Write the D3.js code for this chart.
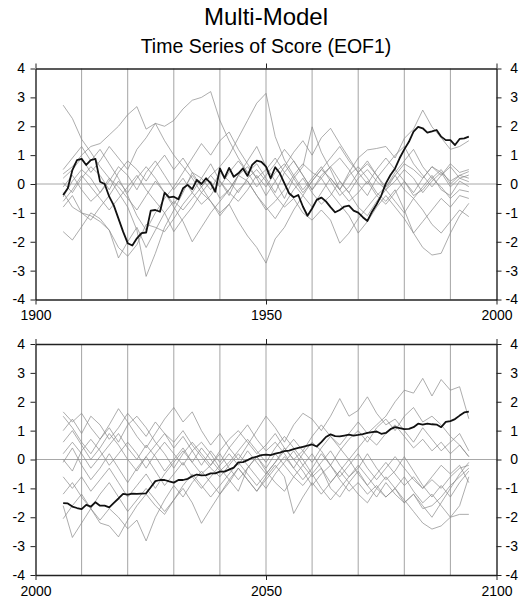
<!DOCTYPE html>
<html>
<head>
<meta charset="utf-8">
<script src="https://cdn.jsdelivr.net/npm/d3@7"></script>
<style>
body { margin: 0; background: #fff; }
text { font-family: "Liberation Sans", Arial, Helvetica, sans-serif; fill: #000; }
</style>
</head>
<body>
<script>
// Titles
var title = "Multi-Model",
    subtitle = "Time Series of Score (EOF1)";

// y ticks (both panels)
var y_ticks = [-4, -3, -2, -1, 0, 1, 2, 3, 4];

// Upper panel : 1900 - 2000
var top_domain = [1900, 2000],
    top_labels = [1900, 1950, 2000],
    top_grid = [1910, 1920, 1930, 1940, 1950, 1960, 1970, 1980, 1990];
var top_years = d3.range(1906, 1995),
    top_model_years = d3.range(1906, 1995, 2);
// multi-model mean (thick)
var top_mean = [
    -0.38, -0.15, 0.48, 0.83, 0.87, 0.66, 0.83, 0.87, 0.08, 0.00,
    -0.44, -0.75, -1.20, -1.65, -2.05, -2.13, -1.88, -1.70, -1.68, -0.92,
    -0.90, -0.96, -0.30, -0.46, -0.44, -0.53, -0.15, -0.03, -0.18, 0.14,
    0.00, 0.20, 0.02, -0.27, 0.54, 0.20, 0.56, 0.25, 0.37, 0.54,
    0.28, 0.66, 0.81, 0.77, 0.60, 0.20, 0.58, 0.37, 0.02, -0.32,
    -0.46, -0.38, -0.78, -1.10, -0.85, -0.55, -0.47, -0.60, -0.80, -0.98,
    -0.90, -0.78, -0.75, -0.92, -0.99, -1.15, -1.28, -0.96, -0.70, -0.40,
    0.02, 0.31, 0.54, 0.90, 1.20, 1.46, 1.81, 1.98, 1.93, 1.78,
    1.82, 1.87, 1.64, 1.52, 1.52, 1.35, 1.56, 1.58, 1.64];
// individual models (thin)
var top_models = [
    [2.73, 2.27, 1.55, 1.1, 0.6, 0.2, -0.3, -0.8, -1.6, -3.2,
     -2.4, -1.5, -0.9, -0.3, 0.4, 0.2, 0.7, 0.1, -0.4, 0.3,
     0.8, 1.3, 0.6, 0.1, -0.5, 0.2, 0.6, 1.98, 1.1, 0.5,
     -0.2, 0.4, 0.9, 1.18, 1.23, 1.3, 0.9, 1.58, 1.9, 2.56,
     1.98, 1.6, 1.2, 1.3, 1.5],
    [0.35, 0.6, 1.0, 1.3, 1.4, 1.7, 2.0, 2.4, 2.68, 1.9,
     2.1, 1.5, 1.0, 0.6, 0.2, -0.3, 0.1, -0.5, -0.2, 0.3,
     0.1, -0.4, -0.9, -0.6, -0.2, 0.3, 0.7, 0.4, 0.2, 0.6,
     0.1, -0.3, 0.2, 0.5, 0.1, -0.2, 0.3, 0.7, 0.5, 0.2,
     0.6, 0.4, 0.1, 0.3, 0.43],
    [0.2, 0.5, 0.9, 0.4, 0.8, 1.3, 0.9, 0.5, 1.2, 1.6,
     2.1, 2.0, 2.2, 2.6, 2.9, 3.0, 3.2, 2.2, 1.5, 0.9,
     0.4, 0.7, 0.2, -0.3, 0.4, 0.8, 0.3, -0.2, 0.3, 0.6,
     0.9, 0.5, 0.0, -0.4, 0.2, 0.6, 1.0, 1.3, 0.7, 0.3,
     -0.1, 0.3, 0.6, 0.2, 0.31],
    [0.05, -0.3, 0.2, 0.6, 0.3, -0.2, 0.4, 0.8, 0.5, 0.1,
     0.6, 1.0, 0.5, 0.9, 0.4, -0.1, 0.3, 0.6, 1.0, 1.6,
     2.2, 2.8, 3.14, 1.64, 0.83, 0.3, -0.2, 0.2, 0.6, 0.1,
     -0.4, -0.1, 0.4, 0.7, 0.3, -0.2, 0.1, 0.5, 0.2, -0.3,
     0.1, 0.4, -0.1, 0.2, 0.08],
    [-0.1, 0.3, -0.2, -0.6, -0.3, 0.2, -0.1, -0.5, -0.9, -0.4,
     0.1, -0.3, -0.7, -0.2, 0.3, -0.1, -0.6, -1.0, -0.7, -1.3,
     -1.8, -2.2, -2.74, -1.9, -1.5, -0.9, -0.4, -0.8, -0.3, 0.2,
     -0.2, -0.6, -0.3, 0.1, -0.4, -0.1, 0.3, -0.2, -0.5, -0.1,
     0.3, -0.2, -0.4, 0.1, -0.09],
    [-0.3, -0.8, -1.0, -1.1, -1.3, -1.6, -2.2, -2.5, -2.1, -1.4,
     -1.5, -1.65, -1.2, -0.7, -0.3, 0.2, -0.2, 0.4, 0.1, -0.3,
     0.2, 0.5, 0.1, -0.4, -0.8, -0.5, -1.0, -1.25, -0.9, -1.25,
     -2.05, -1.7, -1.2, -0.8, -0.4, -0.7, -0.3, 0.1, -0.4, -0.2,
     0.2, -0.1, -0.5, -0.2, -0.27],
    [-0.45, 0.1, 0.5, 0.2, -0.3, 0.1, 0.6, 0.3, -0.2, 0.4,
     0.8, 0.3, -0.2, 0.2, -0.3, -0.7, -0.4, 0.1, -0.3, -0.6,
     -0.2, 0.3, -0.1, 0.4, 0.7, 0.2, -0.3, 0.1, 0.5, 0.2,
     -0.2, 0.3, 0.6, 0.2, -0.3, -0.6, -0.2, -0.9, -1.7, -2.2,
     -2.46, -2.4, -1.7, -1.1, -0.67],
    [-0.6, -0.2, 0.3, -0.1, -0.5, -0.9, -0.5, -0.1, 0.3, -0.2,
     -0.6, -1.0, -1.65, -1.2, -0.8, -0.3, -0.6, -1.1, -0.7, -0.2,
     0.1, -0.4, -0.8, -1.2, -0.7, -0.2, 0.2, -0.3, -0.7, -0.4,
     0.1, -0.3, -0.8, -1.1, -0.6, -0.2, -0.6, -1.0, -0.5, -0.9,
     -1.4, -1.7, -1.3, -0.9, -1.13],
    [-0.8, -0.4, -1.0, -1.25, -0.8, -0.4, 0.1, -0.3, 0.2, 0.6,
     0.2, -0.3, -0.8, -1.3, -2.0, -1.5, -1.0, -0.6, -0.2, 0.3,
     0.6, 0.2, 0.5, 0.9, 0.4, 0.0, -0.4, 0.1, 0.5, 0.9,
     1.3, 0.8, 0.4, 0.0, 0.5, 0.9, 0.5, 0.1, -0.3, 0.2,
     0.6, 0.3, 0.7, 0.4, 0.5],
    [-1.65, -1.94, -1.48, -1.0, -1.2, -1.6, -2.56, -2.0, -1.5, -2.2,
     -1.6, -1.0, -0.6, -0.9, -0.5, -0.1, 0.3, -0.1, 0.4, 0.8,
     0.4, -0.1, 0.3, 0.7, 1.2, 0.8, 0.3, -0.2, 0.2, -0.3,
     -0.7, -1.1, -1.7, -1.3, -0.8, -0.4, -0.8, -1.2, -1.7, -1.3,
     -0.9, -0.5, -0.8, -0.4, -0.5],
    [0.5, 0.9, 1.3, 0.8, 1.2, 0.7, 0.2, -0.4, -1.1, -1.6,
     -1.0, -0.5, -0.1, 0.4, 0.9, 1.4, 1.0, 1.5, 1.8, 1.2,
     0.7, 0.2, -0.4, 0.1, 0.6, 1.1, 1.5, 1.0, 1.6, 1.93,
     1.4, 0.9, 0.4, 0.8, 0.3, -0.1, 0.4, 0.8, 1.2, 0.6,
     0.2, 0.5, 0.0, 0.3, 0.2]
];

// Lower panel : 2000 - 2100
var bot_domain = [2000, 2100],
    bot_labels = [2000, 2050, 2100],
    bot_grid = [2010, 2020, 2030, 2040, 2050, 2060, 2070, 2080, 2090];
var bot_years = d3.range(2006, 2095),
    bot_model_years = d3.range(2006, 2095, 2);
var bot_mean = [
    -1.51, -1.52, -1.63, -1.68, -1.72, -1.57, -1.63, -1.48, -1.60, -1.60,
    -1.66, -1.50, -1.35, -1.19, -1.22, -1.18, -1.19, -1.18, -1.17, -0.96,
    -0.75, -0.71, -0.71, -0.76, -0.80, -0.71, -0.71, -0.67, -0.58, -0.52,
    -0.55, -0.54, -0.48, -0.48, -0.42, -0.42, -0.35, -0.28, -0.10, -0.09,
    -0.02, 0.06, 0.10, 0.15, 0.17, 0.15, 0.20, 0.24, 0.29, 0.31,
    0.36, 0.40, 0.44, 0.48, 0.52, 0.45, 0.60, 0.78, 0.87, 0.81,
    0.80, 0.83, 0.86, 0.83, 0.85, 0.88, 0.92, 0.95, 0.97, 0.89,
    0.92, 1.05, 1.12, 1.09, 1.05, 1.06, 1.12, 1.24, 1.21, 1.24,
    1.22, 1.21, 1.12, 1.30, 1.33, 1.40, 1.52, 1.63, 1.66];
var bot_models = [
    [1.65, 1.3, 1.6, 1.1, 0.7, 1.2, 1.76, 1.3, 0.8, 0.4,
     0.9, 1.4, 1.8, 1.3, 1.65, 1.0, 0.5, 0.9, 0.4, 0.0,
     0.5, 1.0, 1.5, 1.1, 0.6, 1.2, 1.6, 1.4, 1.0, 1.5,
     2.11, 1.5, 1.7, 2.17, 1.6, 1.2, 1.4, 1.0, 0.6, 1.1,
     0.7, 0.3, 0.6, 0.9, 0.3],
    [1.5, 1.1, 0.6, 0.2, 0.7, 1.1, 0.6, 1.2, 1.5, 1.1,
     0.6, 0.2, -0.3, 0.2, 0.6, 0.2, -0.2, 0.3, 0.7, 1.0,
     0.6, 0.2, 0.5, 0.9, 0.4, 0.0, 0.3, 0.8, 1.2, 0.8,
     0.5, 0.9, 1.3, 0.9, 1.2, 1.5, 2.0, 2.4, 2.3, 2.81,
     2.2, 2.77, 2.4, 2.52, 1.41],
    [1.0, 1.4, 0.9, 1.5, 1.2, 0.7, 1.1, 1.6, 1.2, 0.8,
     1.3, 0.9, 0.4, 0.8, 0.3, -0.2, 0.3, -0.1, 0.4, 0.8,
     1.2, 0.7, 0.3, 0.6, 0.2, -0.3, 0.2, 0.6, 0.3, -0.2,
     0.3, 0.7, 1.0, 0.6, 1.1, 1.4, 1.0, 1.5, 1.8, 1.3,
     1.5, 1.2, 0.8, 0.5, 0.1],
    [0.6, 1.0, 0.5, 0.0, 0.4, 0.9, 0.5, 0.0, -0.4, 0.1,
     0.5, 0.9, 0.6, 1.0, 0.5, 0.1, -0.3, -0.6, -0.2, 0.2,
     -0.2, -0.6, -1.0, -0.5, -0.1, 0.3, -0.2, -0.6, -0.3, -1.0,
     -1.3, -0.8, -0.4, -0.9, -1.3, -0.8, -1.2, -1.5, -1.2, -1.6,
     -2.0, -1.5, -1.0, -0.5, -0.1],
    [0.2, 0.6, 0.2, -0.3, 0.1, 0.5, 0.9, 0.4, 0.0, 0.5,
     0.1, -0.4, 0.0, 0.4, -0.1, -0.5, -0.2, 0.2, -0.3, -0.7,
     -0.3, 0.1, -0.4, -0.8, -1.1, -0.6, -0.9, -0.5, -1.0, -1.4,
     -1.0, -0.6, -0.2, -0.6, -1.0, -1.3, -1.0, -1.5, -1.2, -1.7,
     -1.6, -1.3, -0.9, -0.6, -0.3],
    [0.0, -0.4, 0.3, 0.7, 0.3, -0.2, 0.2, 0.6, 0.2, -0.3,
     0.2, 0.6, 0.2, -0.2, 0.3, 0.6, 0.2, -0.3, -0.7, -0.3,
     -0.7, -1.1, -0.6, -0.2, -0.6, -1.87, -1.3, -0.8, -1.2, -0.8,
     -0.4, -0.8, -1.2, -1.5, -1.0, -0.6, -1.0, -1.4, -1.8, -2.2,
     -2.41, -2.3, -2.0, -1.6, -0.6],
    [-0.1, 0.4, -0.2, -0.7, -0.3, 0.2, -0.3, -0.8, -0.3, 0.1,
     -0.4, -0.9, -0.5, -0.1, -0.6, -1.0, -0.6, -0.2, 0.2, -0.2,
     0.3, -0.1, -0.5, -0.1, 0.4, 0.0, -0.4, -0.9, -0.5, -0.2,
     -0.7, -1.1, -0.8, -1.2, -0.9, -1.3, -1.0, -0.6, -1.1, -1.5,
     -1.2, -1.6, -2.0, -1.9, -1.9],
    [-0.6, -1.0, -0.6, -1.1, -0.7, -0.3, -0.8, -1.3, -0.9, -0.5,
     -1.0, -0.5, -0.1, 0.3, -0.1, 0.4, 0.0, -0.4, -0.1, 0.3,
     0.7, 0.3, -0.1, 0.4, 0.8, 0.4, 0.0, -0.5, -0.1, 0.3,
     -0.2, -0.6, -0.3, 0.2, -0.3, -0.7, -0.4, 0.1, -0.4, -0.9,
     -1.3, -0.9, -1.3, -0.8, -0.4],
    [-1.2, -0.8, -1.3, -1.7, -1.2, -0.8, -1.3, -1.8, -1.4, -1.0,
     -1.4, -1.8, -1.4, -1.0, -1.5, -2.21, -1.7, -1.2, -0.7, -1.1,
     -0.3, 0.1, -0.3, 0.2, -0.2, -0.6, -0.2, 0.2, -0.3, -0.8,
     -0.4, 0.0, -0.5, -0.9, -0.5, -0.1, -0.5, -0.9, -0.6, -1.0,
     -0.7, -1.0, -0.6, -0.3, -0.2],
    [-1.6, -2.7, -2.2, -1.7, -2.1, -1.7, -2.0, -2.4, -2.1, -2.82,
     -2.0, -1.4, -0.9, -1.3, -0.8, -0.4, -0.8, -1.2, -0.8, -0.3,
     -0.7, -1.1, -0.7, -0.3, 0.1, -0.3, -0.7, -0.3, 0.2, -0.2,
     -0.6, -0.2, 0.2, -0.3, -0.7, -0.3, 0.1, -0.3, -0.7, -1.0,
     -0.6, -0.2, -0.5, -0.2, -0.8],
    [-2.05, -1.6, -1.2, -1.7, -2.2, -2.3, -2.68, -2.1, -1.6, -1.2,
     -1.6, -1.9, -1.4, -0.9, -0.5, -0.9, -1.3, -0.9, -0.5, -0.1,
     -0.5, -0.9, -0.5, -0.1, 0.3, 0.7, 0.3, -0.1, 0.4, 0.8,
     0.4, 0.0, 0.4, 0.8, 0.5, 0.9, 1.2, 0.8, 0.4, 0.7,
     0.3, 0.6, 0.2, 0.5, 0.1]
];

/* **
** Layout
** */
var width = 525, height = 601;
var plot = {left: 35.5, right: 496.5};

var svg = d3.select("body").append("svg")
        .attr("width", width)
        .attr("height", height);

svg.append("text")
        .attr("x", 266).attr("y", 25)
        .attr("text-anchor", "middle")
        .style("font-size", "24px")
        .text(title);
svg.append("text")
        .attr("x", 266).attr("y", 53)
        .attr("text-anchor", "middle")
        .style("font-size", "19.5px")
        .text(subtitle);

function drawPanel(y_top, y_bottom, domain, labels, grid, years, mean, model_years, models) {
    var x = d3.scaleLinear().domain(domain).range([plot.left, plot.right]);
    var y = d3.scaleLinear().domain([-4, 4]).range([y_bottom, y_top]);
    var g = svg.append("g");

    // vertical grid every decade + zero line
    g.append("g").selectAll("line")
        .data(grid).enter().append("line")
            .attr("x1", function(d) { return x(d); })
            .attr("x2", function(d) { return x(d); })
            .attr("y1", y_top).attr("y2", y_bottom)
            .style("stroke", "#9a9a9a").style("stroke-width", 0.9);
    g.append("line")
        .attr("x1", plot.left).attr("x2", plot.right)
        .attr("y1", y(0)).attr("y2", y(0))
        .style("stroke", "#a8a8a8").style("stroke-width", 1);

    // individual models
    var thin = d3.line()
        .x(function(d, i) { return x(model_years[i]); })
        .y(function(d) { return y(d); });
    g.append("g").selectAll("path")
        .data(models).enter().append("path")
            .attr("d", thin)
            .style("fill", "none")
            .style("stroke", "#8a8a8a")
            .style("stroke-width", 0.7);

    // multi-model mean
    var thick = d3.line()
        .x(function(d, i) { return x(years[i]); })
        .y(function(d) { return y(d); });
    g.append("path")
        .datum(mean)
        .attr("d", thick)
        .style("fill", "none")
        .style("stroke", "#111")
        .style("stroke-width", 1.8)
        .style("stroke-linejoin", "round");

    // axes
    var ax_left = g.append("g")
        .attr("transform", "translate(" + plot.left + ",0)")
        .call(d3.axisLeft(y).tickValues(y_ticks).tickSize(5).tickSizeOuter(0).tickPadding(5.5));
    var ax_right = g.append("g")
        .attr("transform", "translate(" + plot.right + ",0)")
        .call(d3.axisRight(y).tickValues(y_ticks).tickSize(5).tickSizeOuter(0));
    ax_right.selectAll("text").attr("x", 21.5).attr("text-anchor", "end");
    var ax_bottom = g.append("g")
        .attr("transform", "translate(0," + y_bottom + ")")
        .call(d3.axisBottom(x).tickValues(labels).tickFormat(d3.format("d"))
            .tickSize(5).tickSizeOuter(0).tickPadding(6));
    var ax_top = g.append("g")
        .attr("transform", "translate(0," + y_top + ")")
        .call(d3.axisTop(x).tickValues(labels).tickFormat("").tickSize(5).tickSizeOuter(0));

    [ax_left, ax_right, ax_bottom, ax_top].forEach(function(a) {
        a.select(".domain").style("stroke", "#222").style("stroke-width", 1.4);
        a.selectAll(".tick line").style("stroke", "#222").style("stroke-width", 1);
        a.selectAll("text")
            .style("font-family", "'Liberation Sans', Arial, Helvetica, sans-serif")
            .style("font-size", "14px")
            .style("fill", "#000");
    });
    ax_left.selectAll("text").text(function(d) { return d < 0 ? "-" + Math.abs(d) : d; });
    ax_right.selectAll("text").text(function(d) { return d < 0 ? "-" + Math.abs(d) : d; });
}

drawPanel(68.5, 299.5, top_domain, top_labels, top_grid, top_years, top_mean, top_model_years, top_models);
drawPanel(344, 575, bot_domain, bot_labels, bot_grid, bot_years, bot_mean, bot_model_years, bot_models);
</script>
</body>
</html>
